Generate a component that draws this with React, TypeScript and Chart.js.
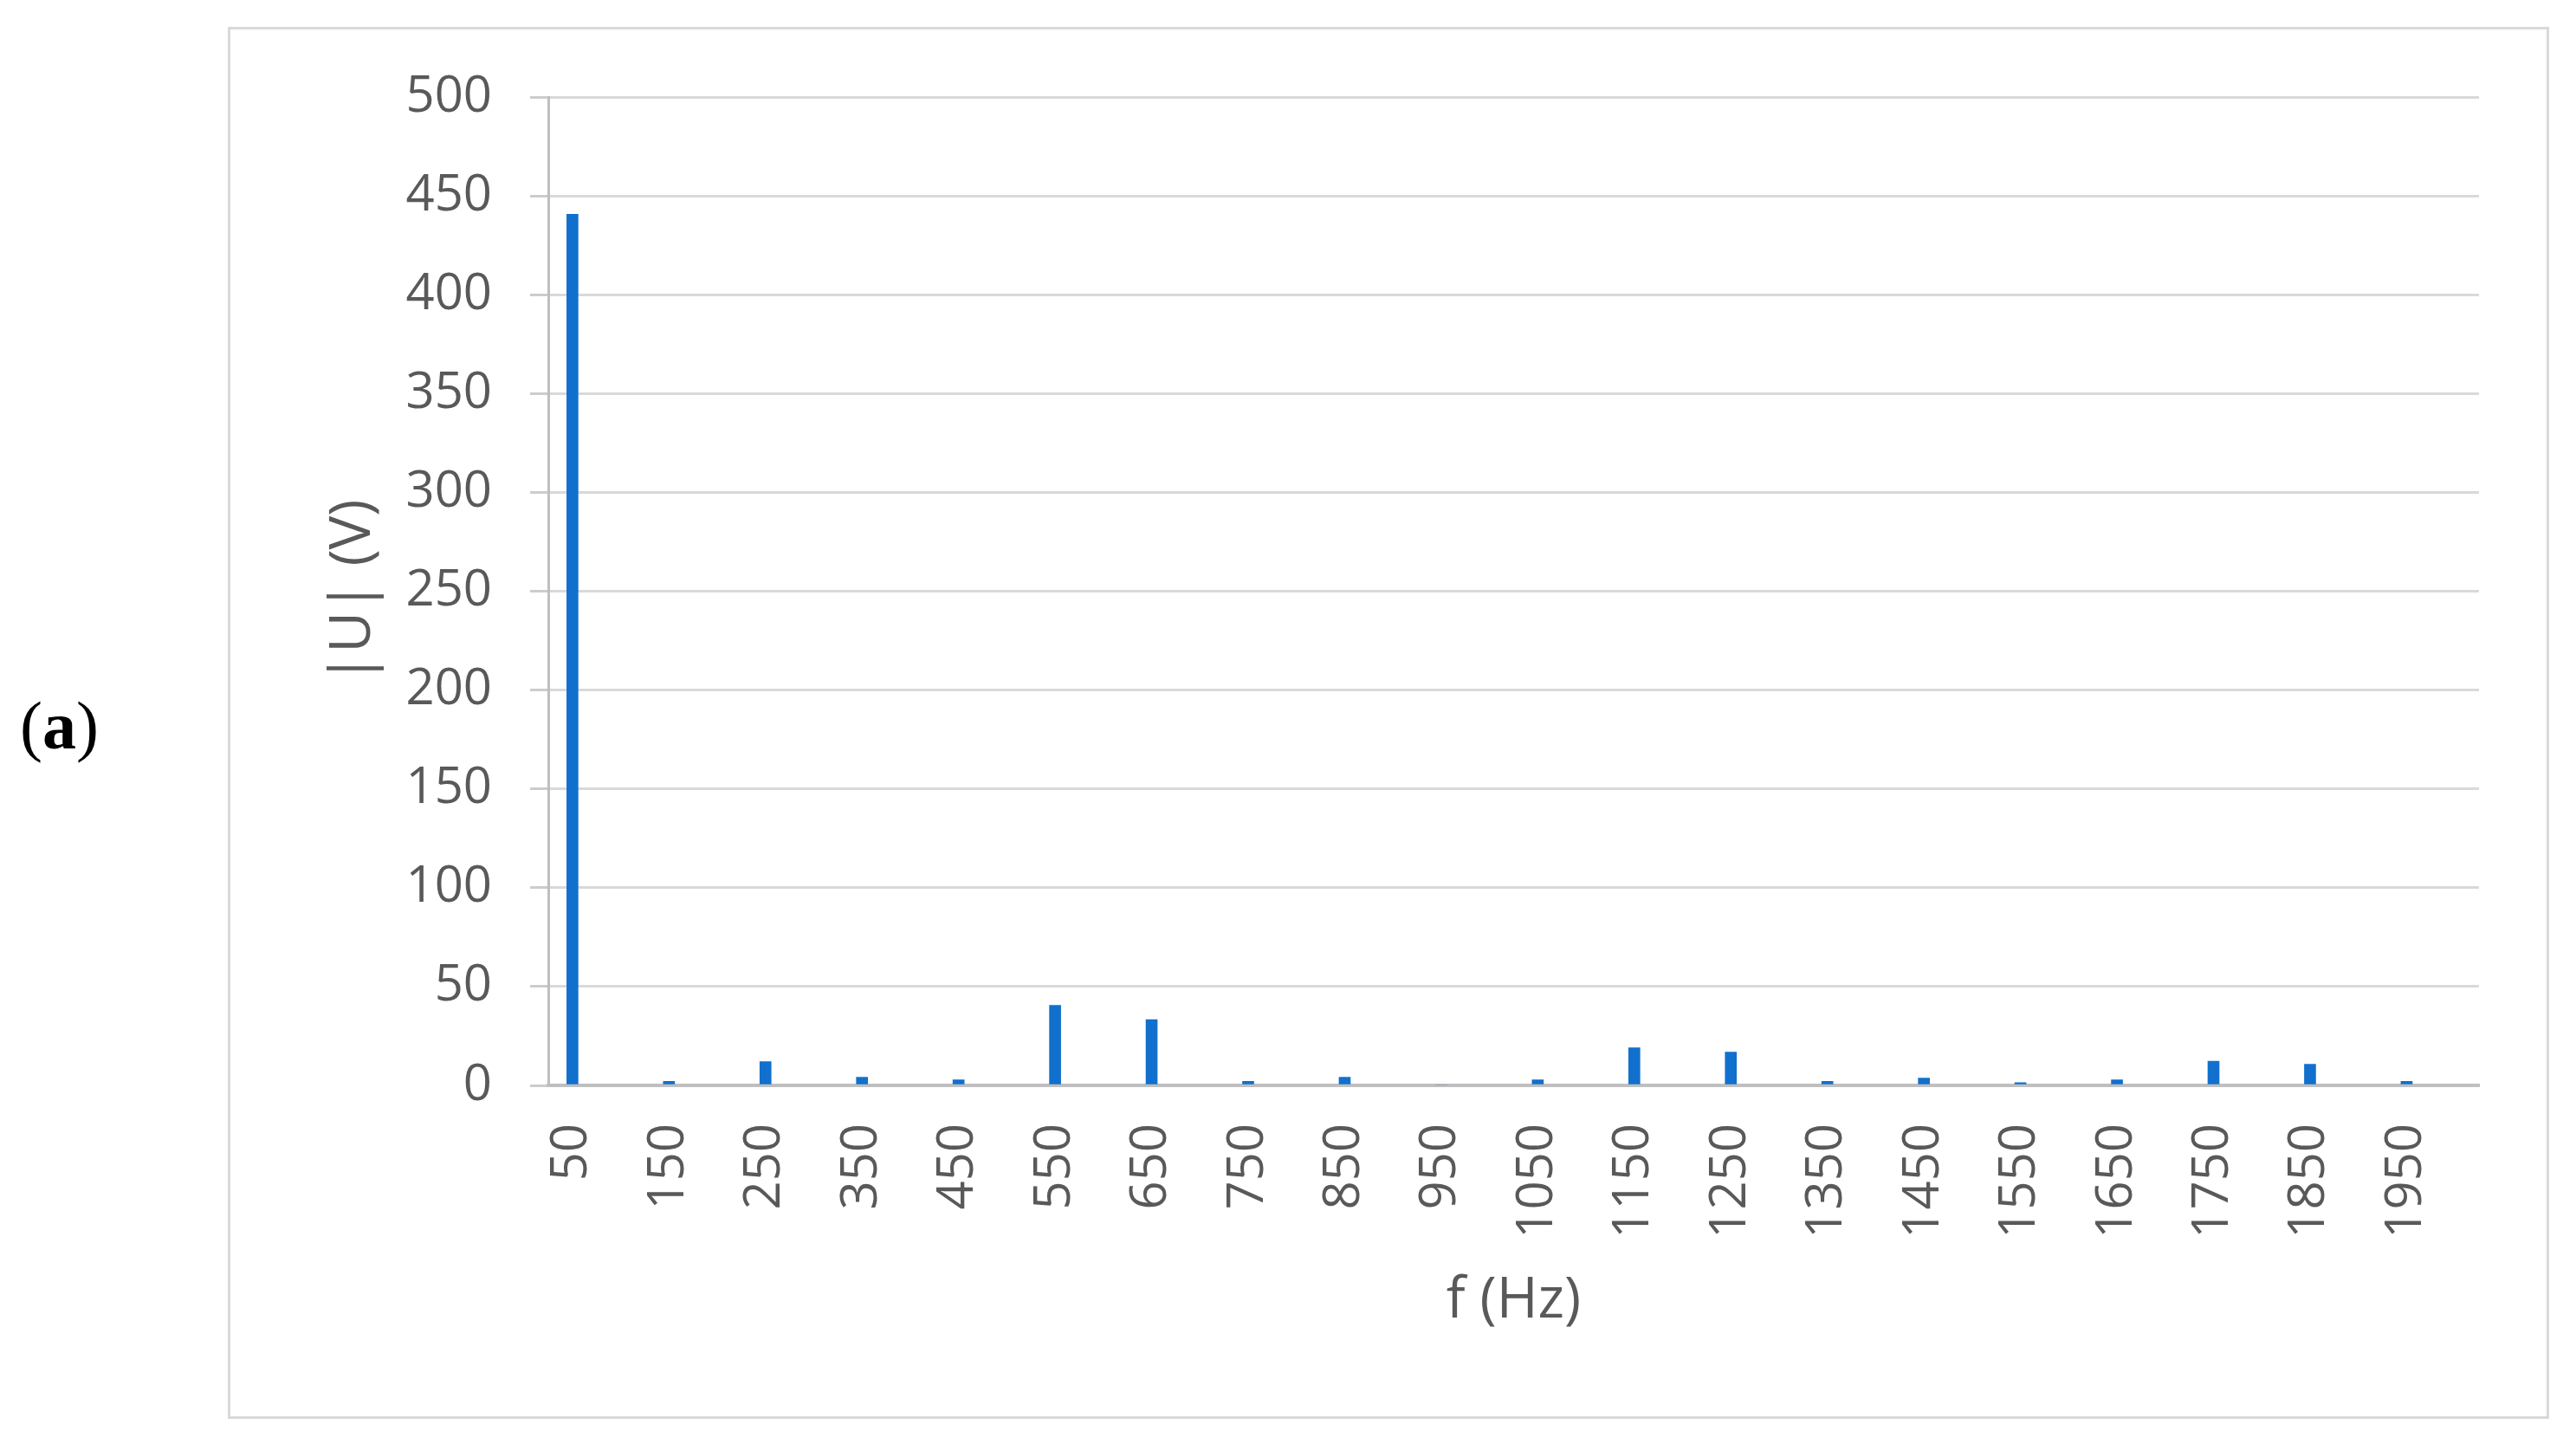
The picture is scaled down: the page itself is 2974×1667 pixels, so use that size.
import React, { useEffect, useRef } from "react";
import { Chart, registerables } from "chart.js";

Chart.register(...registerables);

// Frequencies (Hz) — category positions / tick labels
const frequencies = [50, 150, 250, 350, 450, 550, 650, 750, 850, 950, 1050, 1150, 1250, 1350, 1450, 1550, 1650, 1750, 1850, 1950];
// |U| (V) magnitudes
const magnitudes = [441, 2, 12, 4.1, 2.8, 40.5, 33.3, 2, 4.1, 0, 2.8, 19, 16.8, 2, 3.7, 1.4, 2.8, 12.2, 10.7, 2];
// y tick range
const yMin = 0;
const yMax = 500;
const yStep = 50;
const xMin = 25;
const xMax = 2025;

const xTitle = "f (Hz)";
const yTitle = "|U| (V)";
const panelLabel = "a";

export default function App() {
  const canvasRef = useRef<HTMLCanvasElement | null>(null);

  useEffect(() => {
    const canvas = canvasRef.current;
    if (!canvas) return;
    const textColor = "#595959";
    const family = "'Open Sans', 'Noto Sans', sans-serif";
    const chart = new Chart(canvas, {
      type: "bar",
      data: {
        datasets: [
          {
            label: "|U|",
            data: frequencies.map((f, i) => ({ x: f, y: magnitudes[i] })),
            backgroundColor: "#1170CD",
            borderWidth: 0,
            barThickness: 13,
          },
        ],
      },
      options: {
        animation: false,
        responsive: false,
        devicePixelRatio: 1,
        layout: { padding: { top: 78, right: 78, left: 0, bottom: 0 } },
        plugins: {
          legend: { display: false },
          tooltip: { enabled: false },
          title: { display: false },
        },
        scales: {
          x: {
            type: "linear",
            min: xMin,
            max: xMax,
            offset: false,
            grid: { display: false, drawTicks: false },
            border: { display: true, color: "#bfbfbf", width: 4 },
            afterBuildTicks: (scale: any) => {
              scale.ticks = frequencies.map((v) => ({ value: v }));
            },
            afterFit: (scale: any) => {
              scale.height = 382;
            },
            ticks: {
              autoSkip: false,
              minRotation: 90,
              maxRotation: 90,
              padding: 44,
              color: textColor,
              font: { family, size: 58 },
              callback: (value: any) => String(value),
            },
            title: {
              display: true,
              text: xTitle,
              color: textColor,
              font: { family, size: 65 },
              padding: { top: 0, bottom: 94 },
            },
          },
          y: {
            type: "linear",
            min: yMin,
            max: yMax,
            grid: {
              color: "#d9d9d9",
              lineWidth: 3,
              tickLength: 21,
              tickColor: "#cccccc",
              drawTicks: true,
            },
            border: { display: true, color: "#bfbfbf", width: 3 },
            afterFit: (scale: any) => {
              scale.width = 367;
            },
            ticks: {
              stepSize: yStep,
              padding: 44,
              color: textColor,
              font: { family, size: 58 },
              callback: (value: any) => String(value),
            },
            title: {
              display: true,
              text: yTitle,
              color: textColor,
              font: { family, size: 65 },
              padding: { top: 103, bottom: 0 },
            },
          },
        },
      },
    });
    return () => chart.destroy();
  }, []);

  return (
    <div style={{ position: "relative", width: 2958, height: 1651, overflow: "hidden", background: "#ffffff" }}>
      <div
        style={{
          position: "absolute",
          left: 15,
          top: 791,
          fontFamily: "'Liberation Serif', 'Times New Roman', serif",
          fontSize: 78,
          lineHeight: "78px",
          color: "#000",
        }}
      >
        (<b>{panelLabel}</b>)
      </div>
      <div
        style={{
          position: "absolute",
          left: 255,
          top: 23,
          width: 2674,
          height: 1601,
          border: "3px solid #d9d9d9",
        }}
      >
        <canvas ref={canvasRef} width={2674} height={1601} style={{ display: "block" }} />
      </div>
    </div>
  );
}
